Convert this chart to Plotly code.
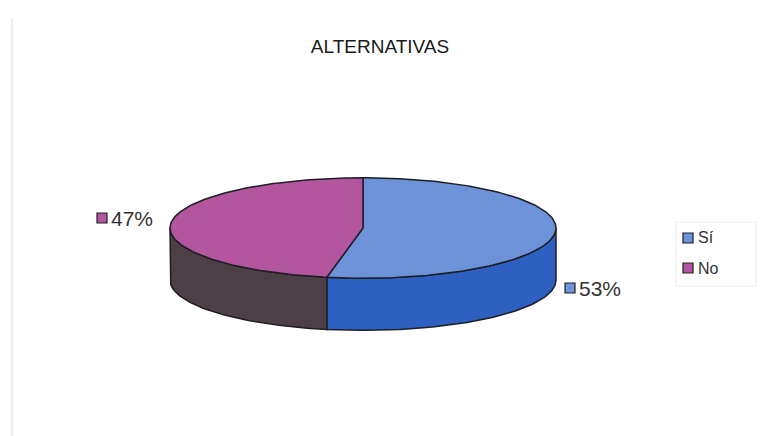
import numpy as np
import plotly.graph_objects as go

# Survey answers
categories = ["Sí", "No"]
values = [53, 47]

top_colors = ["#6c93d9", "#b3559f"]
side_colors = ["#2d60c0", "#4c3f45"]
edge = "#1e1e24"

W, H = 764, 436

# Disk geometry (data units, 1 unit = radius along x)
RX, RY, DEPTH = 1.0, 0.26, 0.27
CX_PX, CY_PX, SCALE = 363.0, 228.0, 193.0


def pt(theta, drop=0.0):
    """Point on the rim, theta measured clockwise from 12 o'clock."""
    return RX * np.sin(theta), RY * np.cos(theta) - drop


fig = go.Figure()

total = float(sum(values))
fracs = [v / total for v in values]
bounds = np.concatenate([[0.0], np.cumsum(fracs)]) * 2 * np.pi

# Side walls: only the front half (pi/2 .. 3pi/2) is visible
for i, cat in enumerate(categories):
    a, b = max(bounds[i], np.pi / 2), min(bounds[i + 1], 3 * np.pi / 2)
    if b <= a:
        continue
    t = np.linspace(a, b, 80)
    xt, yt = pt(t)
    xb, yb = pt(t[::-1], DEPTH)
    fig.add_trace(go.Scatter(
        x=np.concatenate([xt, xb, xt[:1]]),
        y=np.concatenate([yt, yb, yt[:1]]),
        mode="lines", fill="toself", fillcolor=side_colors[i],
        line=dict(color=edge, width=1.5), hoverinfo="skip", showlegend=False))

# Top face wedges
for i, cat in enumerate(categories):
    t = np.linspace(bounds[i], bounds[i + 1], 160)
    xt, yt = pt(t)
    fig.add_trace(go.Scatter(
        x=np.concatenate([[0], xt, [0]]),
        y=np.concatenate([[0], yt, [0]]),
        mode="lines", fill="toself", fillcolor=top_colors[i],
        line=dict(color=edge, width=1.5), name=cat,
        hovertemplate=f"{cat}: {values[i]}<extra></extra>", showlegend=False))


def px(x):
    return x / W


def py(y):
    return 1 - y / H


shapes = []
annotations = []

# Percentage labels with colour keys
label_pos = {"Sí": (570, 288), "No": (102, 218)}
for i, cat in enumerate(categories):
    x0, y0 = label_pos[cat]
    shapes.append(dict(type="rect", xref="paper", yref="paper",
                       x0=px(x0 - 5), x1=px(x0 + 5), y0=py(y0 + 5), y1=py(y0 - 5),
                       fillcolor=top_colors[i], line=dict(color=edge, width=1.2)))
    annotations.append(dict(xref="paper", yref="paper", x=px(x0 + 7), y=py(y0),
                            xanchor="left", yanchor="middle", showarrow=False,
                            text=f"{round(fracs[i] * 100)}%",
                            font=dict(family="Liberation Sans, Arial", size=21, color="#333333")))

# Legend box
shapes.append(dict(type="rect", xref="paper", yref="paper",
                   x0=px(676), x1=px(756), y0=py(286), y1=py(222),
                   fillcolor="rgba(0,0,0,0)", line=dict(color="#ececec", width=1)))
legend_y = [238, 268]
for i, cat in enumerate(categories):
    y0 = legend_y[i]
    shapes.append(dict(type="rect", xref="paper", yref="paper",
                       x0=px(683), x1=px(693), y0=py(y0 + 5), y1=py(y0 - 5),
                       fillcolor=top_colors[i], line=dict(color=edge, width=1.2)))
    annotations.append(dict(xref="paper", yref="paper", x=px(696), y=py(y0),
                            xanchor="left", yanchor="middle", showarrow=False,
                            text=cat,
                            font=dict(family="Liberation Sans, Arial", size=16, color="#333333")))

# Faint chart-area frame edge on the left
shapes.append(dict(type="line", xref="paper", yref="paper",
                   x0=px(12), x1=px(12), y0=0, y1=py(18),
                   line=dict(color="#e6e6e6", width=1.5)))

fig.update_layout(
    width=W, height=H,
    margin=dict(l=0, r=0, t=0, b=0),
    paper_bgcolor="white", plot_bgcolor="white",
    title=dict(text="ALTERNATIVAS", x=px(380), y=py(46), xanchor="center", yanchor="middle",
               font=dict(family="Liberation Sans, Arial", size=19, color="#1a1a1a")),
    xaxis=dict(range=[-CX_PX / SCALE, (W - CX_PX) / SCALE], visible=False, fixedrange=True),
    yaxis=dict(range=[-(H - CY_PX) / SCALE, CY_PX / SCALE], visible=False, fixedrange=True),
    shapes=shapes, annotations=annotations, showlegend=False,
)

fig.write_html("out.html")
